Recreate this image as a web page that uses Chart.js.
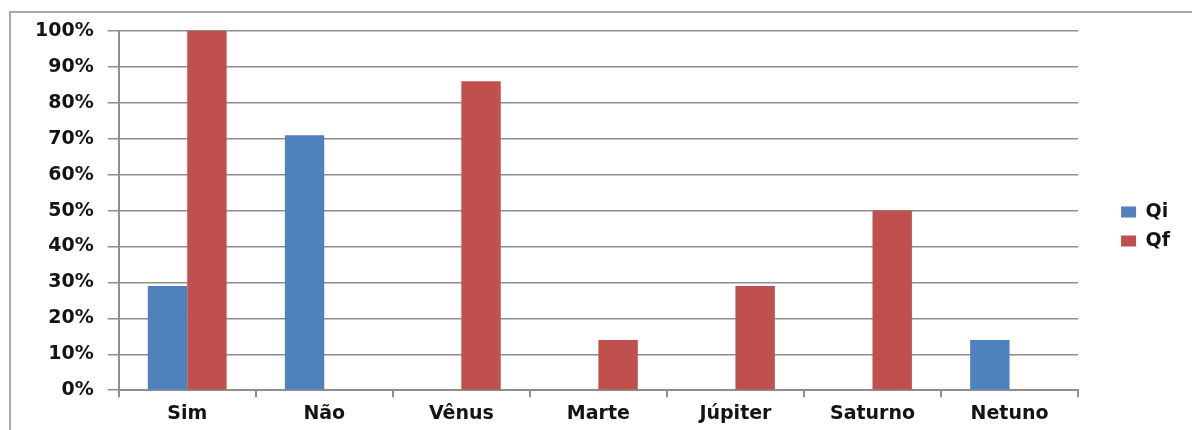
<!DOCTYPE html>
<html lang="pt">
<head>
    <meta charset="UTF-8">
    <title>Qi vs Qf</title>
    <script src="https://cdn.jsdelivr.net/npm/chart.js@4.4.1/dist/chart.umd.min.js"></script>
    <style>
        html, body {
            margin: 0;
            padding: 0;
            background: #fff;
            overflow: hidden;
        }
        .frame {
            position: absolute;
            left: 9px;
            top: 11px;
            width: 1400px;
            height: 600px;
            border: 2px solid #a8a8a8;
        }
        .chart-box {
            position: absolute;
            left: 0;
            top: 0;
            width: 1192px;
            height: 430px;
        }
    </style>
</head>
<body>
    <div class="frame"></div>
    <div class="chart-box">
        <canvas id="chart"></canvas>
    </div>

    <script>
        // values (percent)
        const categories = ['Sim', 'Não', 'Vênus', 'Marte', 'Júpiter', 'Saturno', 'Netuno'];
        const qiValues = [29, 71, 0, 0, 0, 0, 14];
        const qfValues = [100, 0, 86, 14, 29, 50, 0];
        const yTicks = [0, 10, 20, 30, 40, 50, 60, 70, 80, 90, 100];

        const gridColor = '#8e8e8e';
        const textColor = '#141414';
        const labelFont = { family: 'DejaVu Sans', size: 19, weight: 'bold' };

        // push the legend a bit further right, away from the plot
        const legendShift = {
            id: 'legendShift',
            afterLayout(chart) {
                const lg = chart.legend;
                if (lg) {
                    lg.left += 33;
                    lg.right += 33;
                    lg.top -= 4;
                    lg.bottom -= 4;
                }
            }
        };

        new Chart(document.getElementById('chart'), {
            type: 'bar',
            data: {
                labels: categories,
                datasets: [
                    {
                        label: 'Qi',
                        data: qiValues,
                        backgroundColor: '#4f81bd',
                        categoryPercentage: 0.575,
                        barPercentage: 1.0
                    },
                    {
                        label: 'Qf',
                        data: qfValues,
                        backgroundColor: '#c0504d',
                        categoryPercentage: 0.575,
                        barPercentage: 1.0
                    }
                ]
            },
            options: {
                responsive: true,
                maintainAspectRatio: false,
                animation: false,
                layout: {
                    padding: { top: 31, right: 45, bottom: 0, left: 21 }
                },
                scales: {
                    y: {
                        min: 0,
                        max: 100,
                        afterBuildTicks: axis => {
                            axis.ticks = yTicks.map(v => ({ value: v }));
                        },
                        ticks: {
                            color: textColor,
                            font: labelFont,
                            padding: 14,
                            callback: v => v + '%'
                        },
                        grid: {
                            color: gridColor,
                            lineWidth: 1.5,
                            tickLength: 11
                        },
                        border: { color: gridColor, width: 2 }
                    },
                    x: {
                        ticks: {
                            color: textColor,
                            font: labelFont,
                            padding: 5
                        },
                        grid: {
                            offset: true,
                            drawOnChartArea: false,
                            color: gridColor,
                            lineWidth: 2,
                            tickLength: 7
                        },
                        border: { color: gridColor, width: 2 }
                    }
                },
                plugins: {
                    legend: {
                        position: 'right',
                        labels: {
                            boxWidth: 15,
                            boxHeight: 11,
                            padding: 10,
                            color: textColor,
                            font: labelFont
                        }
                    },
                    tooltip: { enabled: false }
                }
            },
            plugins: [legendShift]
        });
    </script>
</body>
</html>
